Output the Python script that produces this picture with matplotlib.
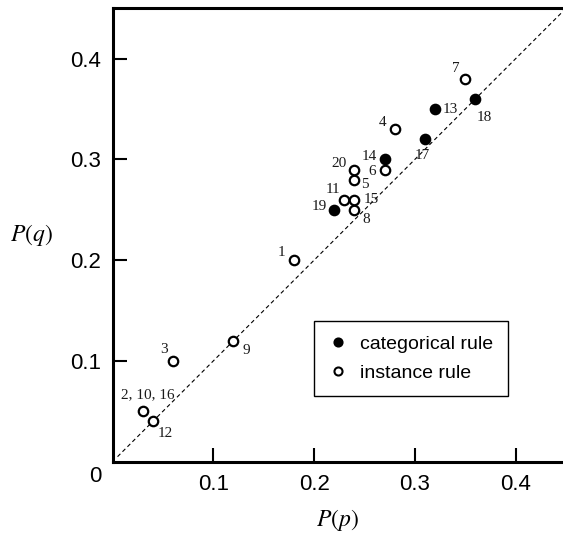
import matplotlib
matplotlib.use("Agg")
import matplotlib.pyplot as plt
from matplotlib.lines import Line2D

plt.rcParams['font.family'] = ['Liberation Sans', 'DejaVu Sans']
plt.rcParams['mathtext.fontset'] = 'stix'

# ---- data ----
labels = ["1", "2, 10, 16", "3", "4", "5", "6", "7", "8", "9", "11",
          "12", "13", "14", "15", "17", "18", "19", "20"]
p_p = [0.18, 0.03, 0.06, 0.28, 0.24, 0.27, 0.35, 0.24, 0.12, 0.23,
       0.04, 0.32, 0.27, 0.24, 0.31, 0.36, 0.22, 0.24]
p_q = [0.20, 0.05, 0.10, 0.33, 0.28, 0.29, 0.38, 0.25, 0.12, 0.26,
       0.04, 0.35, 0.30, 0.26, 0.32, 0.36, 0.25, 0.29]
rule = ["instance", "instance", "instance", "instance", "instance", "instance",
        "instance", "instance", "instance", "instance", "instance", "categorical",
        "categorical", "instance", "categorical", "categorical", "categorical",
        "instance"]
tick_values = [0.1, 0.2, 0.3, 0.4]
tick_labels = ["0.1", "0.2", "0.3", "0.4"]
legend_labels = {"categorical": "categorical rule", "instance": "instance rule"}

# ---- layout (label offsets in pixels: dx right, dy down) ----
label_offsets_px = {
    "1": (-12.2, -7.8), "2, 10, 16": (5, -16.7), "3": (-9.3, -11.7),
    "4": (-11.7, -6.6), "5": (10.7, 4.7), "6": (-12.3, 1.7), "7": (-9, -10),
    "8": (12, 10), "9": (13.3, 10), "11": (-11.3, -10.7), "12": (12.7, 12.3),
    "13": (15.7, 0.7), "14": (-15, -3), "15": (17, 0), "17": (-3, 16.7),
    "18": (8.6, 19), "19": (-15.3, -3.3), "20": (-15.7, -5.7),
}

W, H = 563, 535
fig = plt.figure(figsize=(W / 100, H / 100), dpi=100)
ax = fig.add_axes([112.5 / W, (H - 461.7) / H, (W - 112.5) / W, (461.7 - 8.3) / H])
ax.set_xlim(0, 0.447)
ax.set_ylim(0, 0.45)

# diagonal
ax.plot([0.005, 0.45], [0.005, 0.45], color='black', lw=0.8,
        ls=(0, (3.6, 2.7)), zorder=1)

for x, y, r in zip(p_p, p_q, rule):
    face = 'black' if r == 'categorical' else 'white'
    ax.plot([x], [y], marker='o', ms=6.8, mew=1.6, mec='black', mfc=face,
            ls='none', zorder=3)

for lab, x, y in zip(labels, p_p, p_q):
    dx, dy = label_offsets_px[lab]
    ax.annotate(lab, (x, y), xytext=(dx * 0.72, -dy * 0.72),
                textcoords='offset points', ha='center', va='center',
                fontsize=11, family=['Liberation Serif', 'DejaVu Serif'],
                color='#1a1a1a', zorder=4)

# spines
for s in ['left', 'bottom', 'top']:
    ax.spines[s].set_linewidth(2.2)
ax.spines['right'].set_visible(False)

ax.set_xticks(tick_values)
ax.set_xticklabels(tick_labels)
ax.set_yticks(tick_values)
ax.set_yticklabels(tick_labels)
ax.tick_params(direction='in', length=10, width=1.5, labelsize=16,
               top=False, right=False, pad=8)
ax.tick_params(axis='x', pad=9)
ax.annotate("0", (0, 0), xytext=(-16.8 * 0.72, -15 * 0.72),
            textcoords='offset points', ha='center', va='center', fontsize=16,
            annotation_clip=False)

ax.set_xlabel(r"$P(p)$", fontsize=17)
ax.xaxis.set_label_coords(0.5, (461.7 - 520) / 453.4)
ax.xaxis.label.set_va('center')
ax.set_ylabel(r"$P(q)$", fontsize=17, rotation=0, va='center', ha='center')
ax.yaxis.set_label_coords((31.8 - 112.5) / 450.5, 0.5)

handles = [
    Line2D([], [], marker='o', ls='none', mfc='black', mec='black', ms=5.8, mew=1.5,
           label=legend_labels["categorical"]),
    Line2D([], [], marker='o', ls='none', mfc='white', mec='black', ms=5.8, mew=1.5,
           label=legend_labels["instance"]),
]
leg = ax.legend(handles=handles, loc='upper left',
                bbox_to_anchor=((314 - 112.5) / 450.5, (461.7 - 321) / 453.4),
                borderaxespad=0, fancybox=False, framealpha=1, edgecolor='black',
                fontsize=14, handlelength=1.0, handletextpad=0.63,
                borderpad=0.75, labelspacing=0.55)
leg.get_frame().set_linewidth(1.0)

fig.savefig("out.png", dpi=100)
